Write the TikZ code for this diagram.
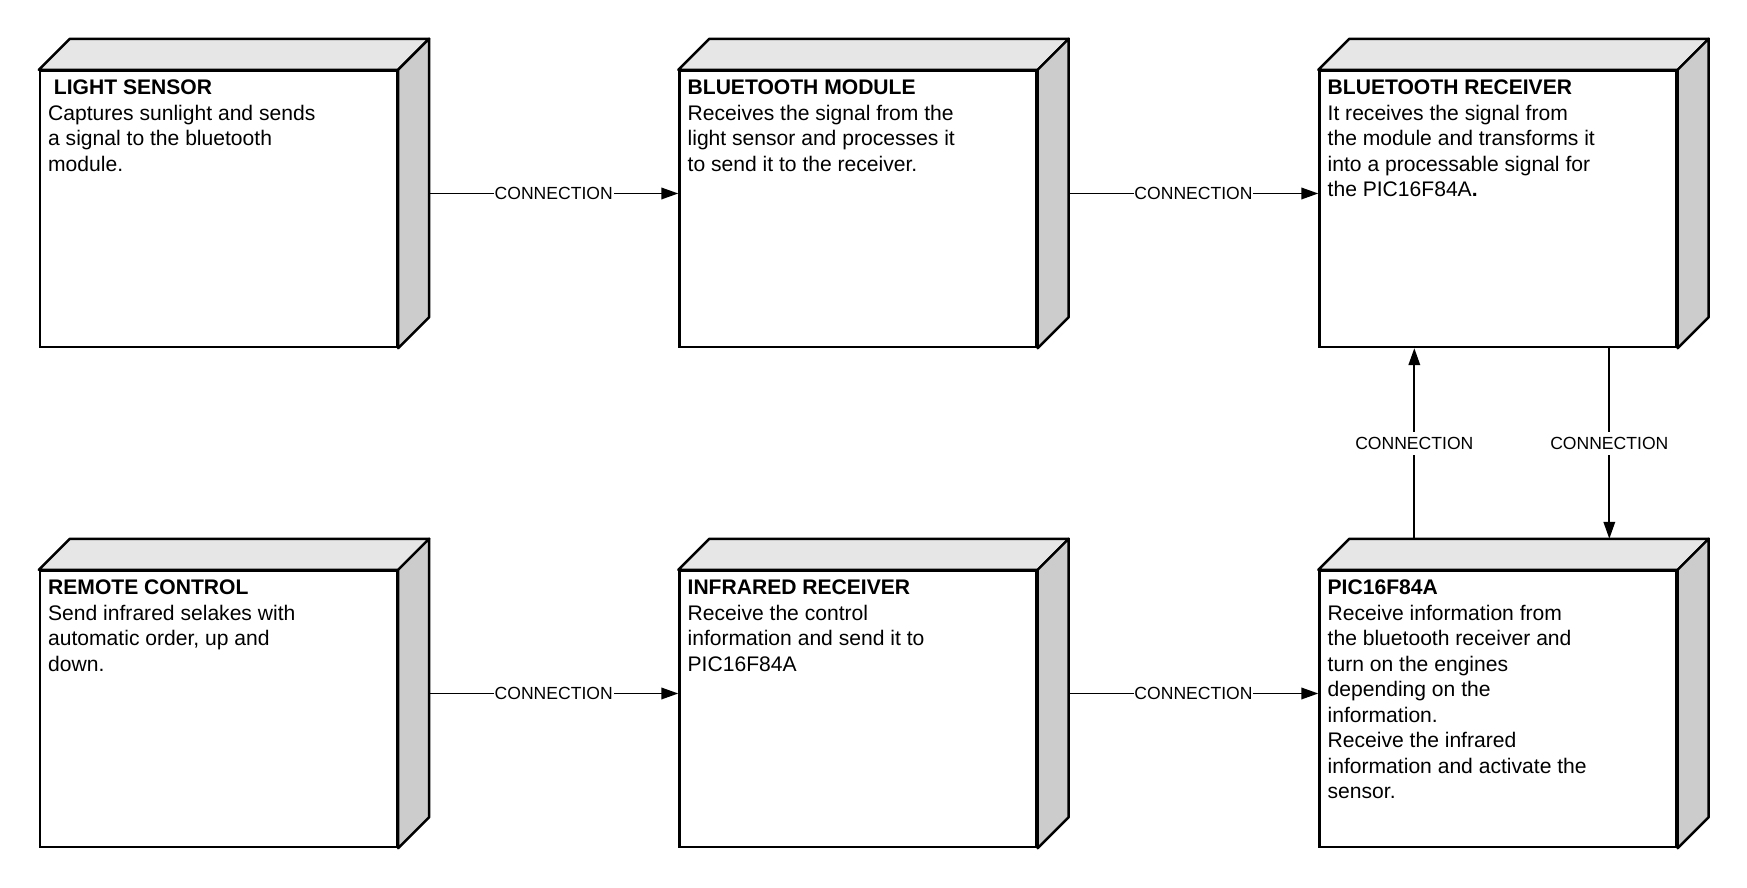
\documentclass[tikz,border=0pt]{standalone}
\usepackage{fontspec}
\setmainfont{Liberation Sans}
\usepackage{tikz}
\usetikzlibrary{arrows.meta, positioning, calc}

\definecolor{topgray}{RGB}{230,230,230}
\definecolor{sidegray}{RGB}{204,204,204}

\tikzset{
  unit/.style={draw, line width=1.4pt, fill=white, minimum width=7.14cm, minimum height=5.52cm, inner sep=0pt},
  face/.style={draw, line width=1.4pt, line join=round},
  info/.style={inner sep=0pt, align=left, font=\fontsize{12}{14.5}\selectfont},
  conn/.style={line width=1.1pt, -{Triangle[length=0.34cm,width=0.23cm]}},
  connlabel/.style={fill=white, inner xsep=0.5pt, inner ysep=3pt, font=\fontsize{10}{12}\selectfont},
}

\begin{document}
\begin{tikzpicture}[x=0.02cm, y=0.02cm]
\useasboundingbox (0,0) rectangle (1747,888);

% front faces
\node[unit] (light) at (218.5,679) {};
\node[unit] (btmod) at (858,679) {};
\node[unit] (btrec) at (1498,679) {};
\node[unit] (remote) at (218.5,179) {};
\node[unit] (irrec) at (858,179) {};
\node[unit] (pic) at (1498,179) {};

% top and side faces
\foreach \n in {light,btmod,btrec,remote,irrec,pic} {
  \draw[face, fill=topgray] (\n.north west) -- ++(31,31) -- ($(\n.north east)+(31,31)$) -- (\n.north east) -- cycle;
  \draw[face, fill=sidegray] (\n.north east) -- ++(31,31) -- ($(\n.south east)+(31,31)$) -- (\n.south east) -- cycle;
}

% texts
\node[info, below right=0.2cm and 0.18cm of light.north west] (lighttext)
  {\textbf{\hspace*{3.3pt}LIGHT SENSOR}\\Captures sunlight and sends\\a signal to the bluetooth\\module.};
\node[info, below right=0.2cm and 0.18cm of btmod.north west] (btmodtext)
  {\textbf{BLUETOOTH MODULE}\\Receives the signal from the\\light sensor and processes it\\to send it to the receiver.};
\node[info, below right=0.2cm and 0.18cm of btrec.north west] (btrectext)
  {\textbf{BLUETOOTH RECEIVER}\\It receives the signal from\\the module and transforms it\\into a processable signal for\\the PIC16F84A\textbf{.}};
\node[info, below right=0.2cm and 0.18cm of remote.north west] (remotetext)
  {\textbf{REMOTE CONTROL}\\Send infrared selakes with\\automatic order, up and\\down.};
\node[info, below right=0.2cm and 0.18cm of irrec.north west] (irrectext)
  {\textbf{INFRARED RECEIVER}\\Receive the control\\information and send it to\\PIC16F84A};
\node[info, below right=0.2cm and 0.18cm of pic.north west] (pictext)
  {\textbf{PIC16F84A}\\Receive information from\\the bluetooth receiver and\\turn on the engines\\depending on the\\information.\\Receive the infrared\\information and activate the\\sensor.};

% connections
\draw[conn] ($(light.east)+(31,15.5)$) -- ($(btmod.west)+(0,15.5)$) node[connlabel, midway] {CONNECTION};
\draw[conn] ($(btmod.east)+(31,15.5)$) -- ($(btrec.west)+(0,15.5)$) node[connlabel, midway] {CONNECTION};
\draw[conn] ($(remote.east)+(31,15.5)$) -- ($(irrec.west)+(0,15.5)$) node[connlabel, midway] {CONNECTION};
\draw[conn] ($(irrec.east)+(31,15.5)$) -- ($(pic.west)+(0,15.5)$) node[connlabel, midway] {CONNECTION};
\draw[conn] ($(pic.north west)+(96,31)$) -- ($(btrec.south west)+(96,0)$) node[connlabel, midway] {CONNECTION};
\draw[conn] ($(btrec.south west)+(291,0)$) -- ($(pic.north west)+(291,31)$) node[connlabel, midway] {CONNECTION};
\end{tikzpicture}
\end{document}
